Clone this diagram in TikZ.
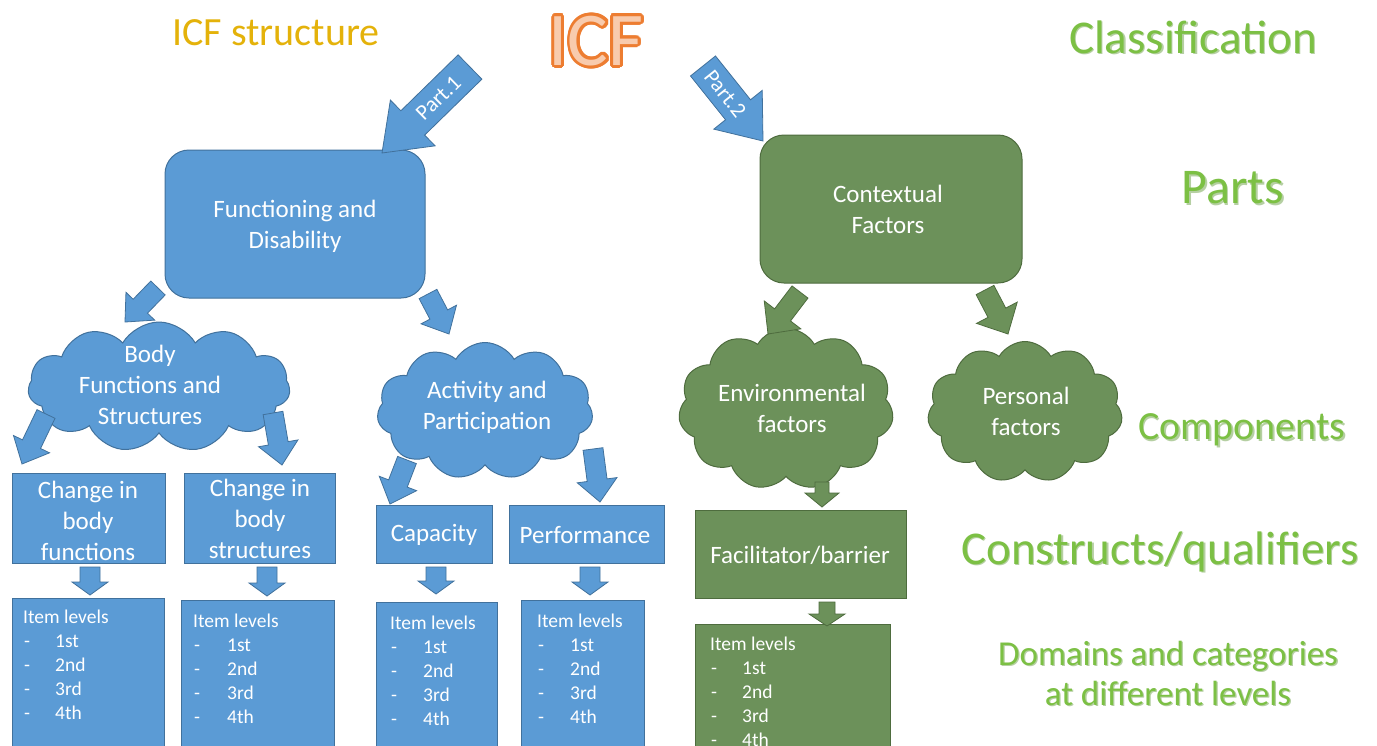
\documentclass[tikz,border=0pt]{standalone}
\usepackage{fontspec}
\setmainfont{Carlito}
\usetikzlibrary{calc,shapes.symbols}

\definecolor{bfill}{RGB}{91,155,213}
\definecolor{bline}{RGB}{65,113,156}
\definecolor{gfill}{RGB}{108,145,90}
\definecolor{gline}{RGB}{78,108,62}
\definecolor{lbl}{RGB}{124,192,68}
\definecolor{lblshade}{RGB}{92,150,50}
\definecolor{gold}{RGB}{228,178,10}
\definecolor{icfline}{RGB}{237,125,49}
\definecolor{icffill}{RGB}{248,203,173}

\tikzset{
  bluebox/.style={draw=bline, fill=bfill, line width=1pt, inner sep=0pt},
  greenbox/.style={draw=gline, fill=gfill, line width=1pt, inner sep=0pt},
  boxtext/.style={text=white, font=\fontsize{25}{31}\selectfont, align=center, inner sep=0pt},
  itemtext/.style={text=white, font=\fontsize{19.5}{24}\selectfont, inner sep=0pt, anchor=base west},
  bluearrow/.style={fill=bfill, draw=bline, line width=0.8pt, line join=miter},
  greenarrow/.style={fill=gfill, draw=gline, line width=0.8pt, line join=miter},
  bubble/.style={cloud, cloud puffs=11, cloud puff arc=120, cloud ignores aspect, inner sep=0pt, line width=1pt},
  heading/.style={text=lbl, inner sep=0pt, align=center},
  headshade/.style={text=lblshade, text opacity=0.45, inner sep=0pt, align=center},
  icffont/.style={font=\fontsize{76}{80}\selectfont, inner sep=0pt},
  parttext/.style={text=white, font=\fontsize{22}{24}\selectfont, inner sep=0pt},
}

% block arrow: style, tail, tip, half shaft width, half head width, head length, id
\newcommand\blockarrow[7]{%
  \coordinate (#7n) at ($(#3)!#6!(#2)$);
  \filldraw[#1] ($(#2)!#4!90:(#3)$) -- ($(#7n)!#4!90:(#3)$) -- ($(#7n)!#5!90:(#3)$)
    -- (#3) -- ($(#7n)!#5!-90:(#3)$) -- ($(#7n)!#4!-90:(#3)$) -- ($(#2)!#4!-90:(#3)$) -- cycle;}

% list of item levels: id, x of dash, x of ordinal, first baseline
\newcommand\itemlevels[4]{%
  \node[itemtext] (#1-h) at (#2,#4) {Item levels};
  \foreach \k/\s in {1/1st,2/2nd,3/3rd,4/4th}{
    \node[itemtext] (#1-d\k) at (#2+1,#4+24*\k) {-};
    \node[itemtext] (#1-n\k) at (#3,#4+24*\k) {\s};
  }}

% green heading with a soft lower-right shade: id, position, size, baselineskip, text
\newcommand\greenheading[5]{%
  \node[headshade, font=\fontsize{#3}{#4}\selectfont] (#1s) at ($(#2)+(1.3,1.3)$) {#5};
  \node[heading, font=\fontsize{#3}{#4}\selectfont] (#1) at (#2) {#5};}

\begin{document}
\begin{tikzpicture}[x=1pt,y=-1pt]
\useasboundingbox (0,0) rectangle (1377,745);
\clip (0,0) rectangle (1377,745);
\fill[white] (0,0) rectangle (1377,745);

% headings
\node[heading, text=gold, font=\fontsize{40}{44}\selectfont] (hstruct) at (276,33) {ICF structure};
\coordinate (icfc) at (596,41);
\foreach \a in {0,20,...,340}
  \node[icffont, text=icfline] (icfo\a) at ($(icfc)+(\a:2.8)$) {ICF};
\node[icffont, text=icffill] (icf) at (icfc) {ICF};
\coordinate (hclassc) at (1193,37);
\coordinate (hpartsc) at (1233,188);
\coordinate (hcompc) at (1242,430);
\coordinate (hconsc) at (1160,552);
\coordinate (hdomc) at (1168,673);
\greenheading{hclass}{hclassc}{47}{50}{Classification}
\greenheading{hparts}{hpartsc}{50}{54}{Parts}
\greenheading{hcomp}{hcompc}{40}{44}{Components}
\greenheading{hcons}{hconsc}{47}{50}{Constructs/qualifiers}
\greenheading{hdom}{hdomc}{35}{40}{Domains and categories\\at different levels}

% parts
\node[bluebox, rounded corners=24pt, minimum width=260pt, minimum height=148pt] (fd) at (295,224) {};
\node[boxtext] (fdt) at (295,226) {Functioning and\\Disability};
\node[greenbox, rounded corners=24pt, minimum width=262pt, minimum height=148pt] (cf) at (891,209) {};
\node[boxtext] (cft) at (888,209) {Contextual\\Factors};

% components
\node[bubble, draw=bline, fill=bfill, minimum width=262pt, minimum height=130pt] (bfs) at (159,387) {};
\node[boxtext] (bfst) at (150,385) {Body\\Functions and\\Structures};
\node[bubble, draw=bline, fill=bfill, minimum width=216pt, minimum height=137pt] (ap) at (485,411) {};
\node[boxtext] (apt) at (487,407) {Activity and\\Participation};
\node[bubble, draw=gline, fill=gfill, minimum width=215pt, minimum height=162pt] (env) at (786,409) {};
\node[boxtext] (envt) at (792,408) {Environmental\\factors};
\node[bubble, draw=gline, fill=gfill, minimum width=195pt, minimum height=141pt] (pf) at (1025,412) {};
\node[boxtext] (pft) at (1026,411) {Personal\\factors};

% constructs / qualifiers
\node[bluebox, minimum width=153pt, minimum height=90pt] (cbf) at (88.5,518) {};
\node[boxtext] (cbft) at (88,521) {Change in\\body\\functions};
\node[bluebox, minimum width=151pt, minimum height=90pt] (cbs) at (259.5,518) {};
\node[boxtext] (cbst) at (260,519) {Change in\\body\\structures};
\node[bluebox, minimum width=116pt, minimum height=58pt] (cap) at (434,534) {};
\node[boxtext] (capt) at (434,535) {Capacity};
\node[bluebox, minimum width=155pt, minimum height=58pt] (perf) at (586.5,534) {};
\node[boxtext] (perft) at (585,535) {Performance};
\node[greenbox, minimum width=211pt, minimum height=88pt] (fb) at (800.5,554) {};
\node[boxtext] (fbt) at (800,555) {Facilitator/barrier};

% item level boxes
\node[bluebox, anchor=north west, minimum width=152pt, minimum height=170pt] (il1) at (12,598) {};
\node[bluebox, anchor=north west, minimum width=153pt, minimum height=170pt] (il2) at (181,600) {};
\node[bluebox, anchor=north west, minimum width=121pt, minimum height=170pt] (il3) at (376,602) {};
\node[bluebox, anchor=north west, minimum width=123pt, minimum height=170pt] (il4) at (521,600) {};
\node[greenbox, anchor=north west, minimum width=195pt, minimum height=150pt] (il5) at (695,624) {};
\itemlevels{t1}{23}{55}{623}
\itemlevels{t2}{193}{227}{627}
\itemlevels{t3}{390}{423}{629}
\itemlevels{t4}{537}{570}{627}
\itemlevels{t5}{710}{742}{650}

% part arrows
\coordinate (p1a) at (470,67);
\coordinate (p1b) at (382,153);
\blockarrow{bluearrow}{p1a}{p1b}{17pt}{32pt}{43pt}{p1}
\path (p1a) -- (p1b) node[parttext, pos=0.36, sloped] (p1lbl) {Part.1};
\coordinate (p2a) at (703,66);
\coordinate (p2b) at (763,141);
\blockarrow{bluearrow}{p2a}{p2b}{16pt}{31pt}{40pt}{p2}
\path (p2a) -- (p2b) node[parttext, pos=0.37, sloped] (p2lbl) {Part.2};

% arrows between levels
\coordinate (a1a) at (158,288);  \coordinate (a1b) at (125,322);
\coordinate (a2a) at (428,294);  \coordinate (a2b) at (449,334);
\coordinate (a3a) at (46,414);   \coordinate (a3b) at (22,464);
\coordinate (a4a) at (273,413);  \coordinate (a4b) at (282,465);
\coordinate (a5a) at (407,460);  \coordinate (a5b) at (390,504);
\coordinate (a6a) at (593,449);  \coordinate (a6b) at (600,502);
\coordinate (a7a) at (800,292);  \coordinate (a7b) at (768,334);
\coordinate (a8a) at (985,290);  \coordinate (a8b) at (1008,334);
\blockarrow{bluearrow}{a1a}{a1b}{10pt}{20pt}{22pt}{a1}
\blockarrow{bluearrow}{a2a}{a2b}{10pt}{20pt}{22pt}{a2}
\blockarrow{bluearrow}{a3a}{a3b}{10pt}{20pt}{22pt}{a3}
\blockarrow{bluearrow}{a4a}{a4b}{10pt}{20pt}{22pt}{a4}
\blockarrow{bluearrow}{a5a}{a5b}{10pt}{20pt}{22pt}{a5}
\blockarrow{bluearrow}{a6a}{a6b}{10pt}{20pt}{22pt}{a6}
\blockarrow{greenarrow}{a7a}{a7b}{10pt}{23pt}{24pt}{a7}
\blockarrow{greenarrow}{a8a}{a8b}{10pt}{23pt}{24pt}{a8}

% arrows down to the item levels
\coordinate (v1a) at (90,567);   \coordinate (v1b) at (90,595);
\coordinate (v2a) at (267,567);  \coordinate (v2b) at (267,596);
\coordinate (v3a) at (436,567);  \coordinate (v3b) at (436,594);
\coordinate (v4a) at (590,567);  \coordinate (v4b) at (590,595);
\coordinate (v5a) at (822,482);  \coordinate (v5b) at (822,507);
\coordinate (v6a) at (827,602);  \coordinate (v6b) at (827,626);
\blockarrow{bluearrow}{v1a}{v1b}{10pt}{18pt}{13pt}{v1}
\blockarrow{bluearrow}{v2a}{v2b}{10pt}{18pt}{13pt}{v2}
\blockarrow{bluearrow}{v3a}{v3b}{10pt}{18pt}{13pt}{v3}
\blockarrow{bluearrow}{v4a}{v4b}{10pt}{18pt}{13pt}{v4}
\blockarrow{greenarrow}{v5a}{v5b}{7pt}{17pt}{14pt}{v5}
\blockarrow{greenarrow}{v6a}{v6b}{8pt}{18pt}{12pt}{v6}
\end{tikzpicture}
\end{document}
